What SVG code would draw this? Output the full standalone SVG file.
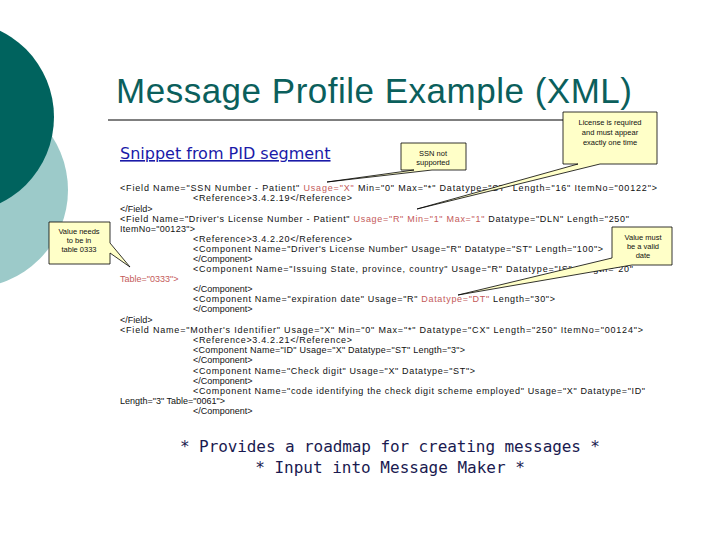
<svg xmlns="http://www.w3.org/2000/svg" width="720" height="540" viewBox="0 0 720 540">
<style>
.c{font-family:"Liberation Sans",Arial,sans-serif;font-size:9px;fill:#111}
.r{fill:#c45a5a}
.call{fill:#ffffc8;stroke:#000;stroke-width:0.8}
.ct{font-family:"Liberation Sans",Arial,sans-serif;font-size:7.5px;fill:#111;text-anchor:middle}
</style>
<rect width="720" height="540" fill="#fff"/>
<circle cx="-30" cy="190" r="98" fill="#9ccac9"/>
<circle cx="-42" cy="117" r="96" fill="#00635e"/>
<text x="116" y="103" font-family="Liberation Sans,Arial,sans-serif" font-size="35" fill="#0b5f5c" textLength="516">Message Profile Example (XML)</text>
<line x1="108" y1="120" x2="592" y2="120" stroke="#000" stroke-width="1"/>
<text x="120" y="159" font-family="DejaVu Sans,Verdana,sans-serif" font-size="16" fill="#1a1aa8" text-decoration="underline">Snippet from PID segment</text>
<g id="code">
<text class="c" x="120" y="191" textLength="537">&lt;Field Name="SSN Number - Patient" <tspan class="r">Usage="X"</tspan> Min="0" Max="*" Datatype="ST" Length="16" ItemNo="00122"&gt;</text>
<text class="c" x="193" y="201" textLength="159">&lt;Reference&gt;3.4.2.19&lt;/Reference&gt;</text>
<text class="c" x="120" y="212">&lt;/Field&gt;</text>
<text class="c" x="120" y="222" textLength="509">&lt;Field Name="Driver's License Number - Patient" <tspan class="r">Usage="R" Min="1" Max="1"</tspan> Datatype="DLN" Length="250"</text>
<text class="c" x="120" y="232" textLength="75">ItemNo="00123"&gt;</text>
<text class="c" x="193" y="242" textLength="159">&lt;Reference&gt;3.4.2.20&lt;/Reference&gt;</text>
<text class="c" x="193" y="252" textLength="410">&lt;Component Name="Driver's License Number" Usage="R" Datatype="ST" Length="100"&gt;</text>
<text class="c" x="193" y="262">&lt;/Component&gt;</text>
<text class="c" x="193" y="272" textLength="440">&lt;Component Name="Issuing State, province, country" Usage="R" Datatype="IS" Length="20"</text>
<text class="c r" x="120" y="282">Table="0333"&gt;</text>
<text class="c" x="193" y="292">&lt;/Component&gt;</text>
<text class="c" x="193" y="302" textLength="362">&lt;Component Name="expiration date" Usage="R" <tspan class="r">Datatype="DT"</tspan> Length="30"&gt;</text>
<text class="c" x="193" y="312">&lt;/Component&gt;</text>
<text class="c" x="120" y="323">&lt;/Field&gt;</text>
<text class="c" x="120" y="333" textLength="523">&lt;Field Name="Mother's Identifier" Usage="X" Min="0" Max="*" Datatype="CX" Length="250" ItemNo="00124"&gt;</text>
<text class="c" x="193" y="343" textLength="159">&lt;Reference&gt;3.4.2.21&lt;/Reference&gt;</text>
<text class="c" x="193" y="353" textLength="272">&lt;Component Name="ID" Usage="X" Datatype="ST" Length="3"&gt;</text>
<text class="c" x="193" y="363">&lt;/Component&gt;</text>
<text class="c" x="193" y="374" textLength="282">&lt;Component Name="Check digit" Usage="X" Datatype="ST"&gt;</text>
<text class="c" x="193" y="384">&lt;/Component&gt;</text>
<text class="c" x="193" y="394" textLength="452">&lt;Component Name="code identifying the check digit scheme employed" Usage="X" Datatype="ID"</text>
<text class="c" x="120" y="404">Length="3" Table="0061"&gt;</text>
<text class="c" x="193" y="414">&lt;/Component&gt;</text>
</g>
<g id="callout-ssn">
<path class="call" d="M401,143 H466 V170 H432 L327,182 L414,170 H401 Z"/>
<text class="ct" x="433" y="156">SSN not</text><text class="ct" x="433" y="165">supported</text>
</g>
<g id="callout-license">
<path class="call" d="M563,112 H657 V164 H600 L417,209 L578,164 H563 Z"/>
<text class="ct" x="610" y="125">License is required</text><text class="ct" x="610" y="135">and must appear</text><text class="ct" x="610" y="145">exactly one time</text>
</g>
<g id="callout-date">
<path class="call" d="M612,227 H672 V265 H632 L458,295 L612,258 Z"/>
<text class="ct" x="643" y="240">Value must</text><text class="ct" x="643" y="249">be a valid</text><text class="ct" x="643" y="258">date</text>
</g>
<g id="callout-table">
<path class="call" d="M49,222 H110 V243 L130,267 L110,253 V264 H49 Z"/>
<text class="ct" x="79" y="234">Value needs</text><text class="ct" x="79" y="243">to be in</text><text class="ct" x="79" y="252">table 0333</text>
</g>
<text x="390" y="452" font-family="DejaVu Sans Mono,Liberation Mono,monospace" font-size="16" fill="#1a1a50" text-anchor="middle" textLength="420">* Provides a roadmap for creating messages *</text>
<text x="390" y="473" font-family="DejaVu Sans Mono,Liberation Mono,monospace" font-size="16" fill="#1a1a50" text-anchor="middle">* Input into Message Maker *</text>
</svg>
